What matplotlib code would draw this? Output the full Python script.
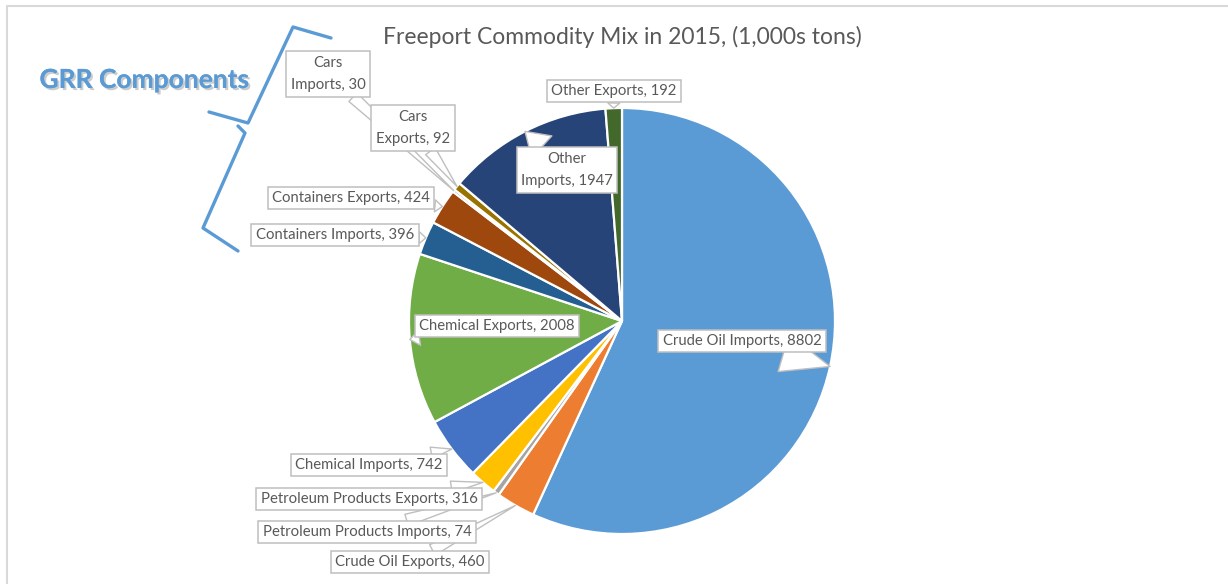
import numpy as np
import matplotlib.pyplot as plt
from matplotlib import patheffects

plt.rcParams['font.family'] = ['Lato', 'DejaVu Sans']

# Freeport tonnage by commodity, 2015 (1,000s tons), clockwise from 12 o'clock
commodities = ['Crude Oil Imports', 'Crude Oil Exports', 'Petroleum Products Imports',
               'Petroleum Products Exports', 'Chemical Imports', 'Chemical Exports',
               'Containers Imports', 'Containers Exports', 'Cars Imports', 'Cars Exports',
               'Other Imports', 'Other Exports']
tons = [8802, 460, 74, 316, 742, 2008, 396, 424, 30, 92, 1947, 192]
slice_colors = ['#5B9BD5', '#ED7D31', '#A5A5A5', '#FFC000', '#4472C4', '#70AD47',
                '#255E91', '#9E480E', '#636363', '#997300', '#264478', '#43682B']
two_line = ['Cars Imports', 'Cars Exports', 'Other Imports']

# label box centres, in figure pixels (origin top-left)
label_pos = [(742, 341), (410, 562), (367, 532), (369, 499), (369, 465), (497, 326),
             (335, 235), (351, 198), (328, 74), (413, 128), (567, 170), (614, 91)]
callout_width = [2.6, 0.8, 0.8, 0.8, 0.8, 1.0, 0.8, 0.8, 0.8, 0.8, 2.0, 0.8]

W, H = 1228, 584
cx, cy, R = 622, 321, 213

fig = plt.figure(figsize=(W / 100, H / 100), dpi=100)

ax = fig.add_axes([(cx - R) / W, (H - cy - R) / H, 2 * R / W, 2 * R / H])
wedges, _ = ax.pie(tons, colors=slice_colors, startangle=90, counterclock=False,
                   wedgeprops=dict(edgecolor='white', linewidth=1.6))
ax.set_xlim(-1, 1)
ax.set_ylim(-1, 1)

# overlay in pixel units for title, labels and the brace
ov = fig.add_axes([0, 0, 1, 1])
ov.set_xlim(0, W)
ov.set_ylim(H, 0)
ov.axis('off')

# chart border
ov.plot([7, 7, W], [H, 6, 6], color='#d9d9d9', lw=1.5, solid_capstyle='butt')

ov.text(622, 37, 'Freeport Commodity Mix in 2015, (1,000s tons)', ha='center', va='center',
        fontsize=16.5, color='#595959')

grr = ov.text(144, 80, 'GRR Components', ha='center', va='center', fontsize=19,
              fontweight='bold', color='#5B9BD5')
grr.set_path_effects([patheffects.withSimplePatchShadow(offset=(1.5, -1.5), shadow_rgbFace='#9a9a9a', alpha=0.5),
                      patheffects.Normal()])

# curly brace around the GRR slices
brace_kw = dict(color='#5B9BD5', lw=2.4, solid_capstyle='round', solid_joinstyle='round')
ov.plot([331, 293, 248, 209], [38, 27, 123, 112], **brace_kw)
ov.plot([238, 245, 203, 238], [126, 133, 228, 251], **brace_kw)

for w, name, val, (tx, ty), tw in zip(wedges, commodities, tons, label_pos, callout_width):
    mid = np.deg2rad((w.theta1 + w.theta2) / 2)
    text = f'{name}, {val}'
    if name in two_line:
        text = text.replace(' ', '\n', 1)
    ov.annotate(text, xy=(np.cos(mid), np.sin(mid)), xycoords=ax.transData,
                xytext=(tx, ty), textcoords='data', ha='center', va='center',
                fontsize=10.7, color='#595959', linespacing=1.75, multialignment='center',
                bbox=dict(boxstyle='square,pad=0.3', fc='white', ec='#bfbfbf', lw=1.1),
                arrowprops=dict(arrowstyle=f'wedge,tail_width={tw},shrink_factor=0.5',
                                fc='white', ec='#bfbfbf', lw=1.0, shrinkA=0, shrinkB=0))

fig.savefig('out.png', dpi=100)
